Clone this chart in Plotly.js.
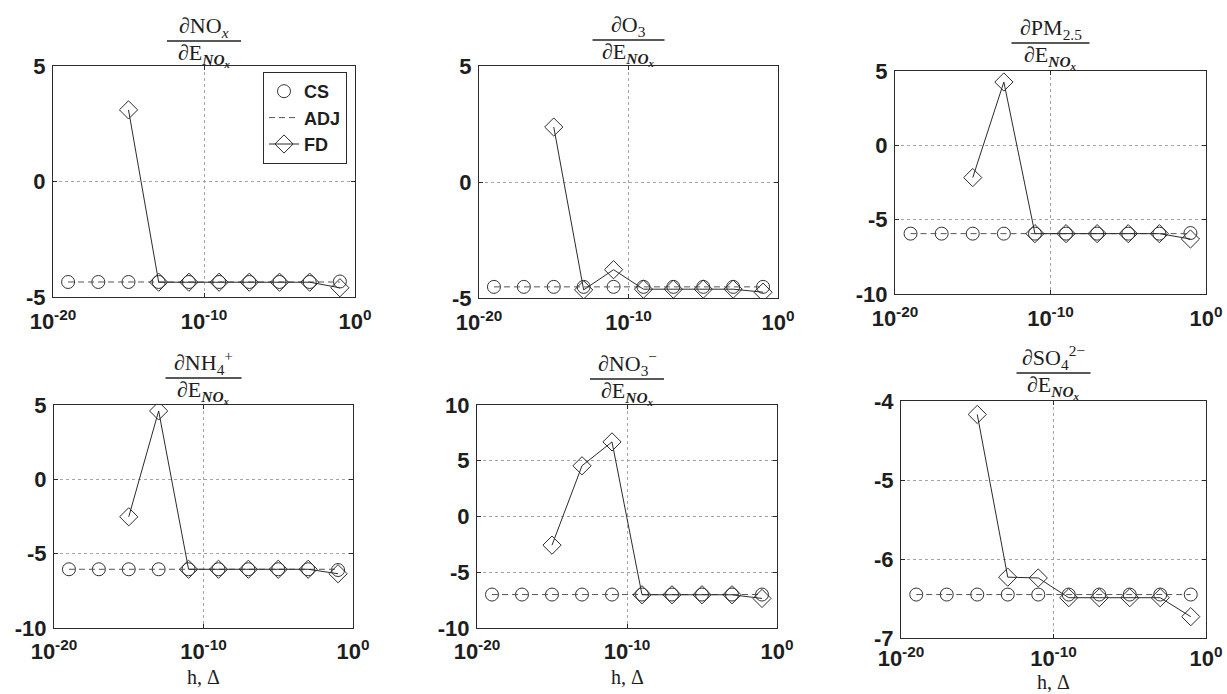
<!DOCTYPE html>
<html>
<head>
<meta charset="utf-8">
<script src="https://cdn.plot.ly/plotly-3.0.1.min.js"></script>
<style>html,body{margin:0;padding:0;background:#fff;}#chart{width:1227px;height:694px;}</style>
</head>
<body>
<div id="chart"></div>
<script>
// ---- data ----
const h = [1e-19, 1e-17, 1e-15, 1e-13, 1e-11, 1e-9, 1e-7, 1e-5, 1e-3, 1e-1];

const csNOx  = [-4.35, -4.35, -4.35, -4.35, -4.35, -4.35, -4.35, -4.35, -4.35, -4.33];
const adjNOx = [-4.35, -4.35, -4.35, -4.35, -4.35, -4.35, -4.35, -4.35, -4.35, -4.35];
const fdNOx  = [null, null, 3.1, -4.36, -4.36, -4.36, -4.36, -4.36, -4.36, -4.6];

const csO3  = [-4.52, -4.52, -4.52, -4.52, -4.52, -4.52, -4.52, -4.52, -4.52, -4.52];
const adjO3 = [-4.52, -4.52, -4.52, -4.52, -4.52, -4.52, -4.52, -4.52, -4.52, -4.52];
const fdO3  = [null, null, 2.37, -4.65, -3.78, -4.62, -4.62, -4.62, -4.62, -4.75];

const csPM  = [-5.94, -5.94, -5.94, -5.94, -5.94, -5.94, -5.94, -5.94, -5.94, -5.9];
const adjPM = [-5.94, -5.94, -5.94, -5.94, -5.94, -5.94, -5.94, -5.94, -5.94, -5.94];
const fdPM  = [null, null, -2.17, 4.26, -5.94, -5.94, -5.94, -5.94, -5.94, -6.3];

const csNH4  = [-6.05, -6.05, -6.05, -6.05, -6.05, -6.05, -6.05, -6.05, -6.05, -6.1];
const adjNH4 = [-6.05, -6.05, -6.05, -6.05, -6.05, -6.05, -6.05, -6.05, -6.05, -6.05];
const fdNH4  = [null, null, -2.52, 4.6, -6.05, -6.05, -6.05, -6.05, -6.05, -6.35];

const csNO3  = [-7.0, -7.0, -7.0, -7.0, -7.0, -7.0, -7.0, -7.0, -7.0, -7.0];
const adjNO3 = [-7.0, -7.0, -7.0, -7.0, -7.0, -7.0, -7.0, -7.0, -7.0, -7.0];
const fdNO3  = [null, null, -2.57, 4.55, 6.69, -7.02, -7.02, -7.02, -7.02, -7.35];

const csSO4  = [-6.45, -6.45, -6.45, -6.45, -6.45, -6.45, -6.45, -6.45, -6.45, -6.45];
const adjSO4 = [-6.45, -6.45, -6.45, -6.45, -6.45, -6.45, -6.45, -6.45, -6.45, -6.45];
const fdSO4  = [null, null, -4.17, -6.23, -6.24, -6.49, -6.49, -6.49, -6.49, -6.73];

const numerators = ["∂NO<sub><i>x</i></sub>", "∂O<sub>3</sub>", "∂PM<sub>2.5</sub>",
                    "∂NH<sub>4</sub><sup>+</sup>", "∂NO<sub>3</sub><sup>−</sup>", "∂SO<sub>4</sub><sup>2−</sup>"];
const denominator = "∂E<sub><b><i>NO<sub>x</sub></i></b></sub>";

const yTickVals = [[5, 0, -5], [5, 0, -5], [5, 0, -5, -10], [5, 0, -5, -10], [10, 5, 0, -5, -10], [-4, -5, -6, -7]];
const yTickText = [["5", "0", "-5"], ["5", "0", "-5"], ["5", "0", "-5", "-10"], ["5", "0", "-5", "-10"],
                   ["10", "5", "0", "-5", "-10"], ["-4", "-5", "-6", "-7"]];
const yRanges = [[-5, 5], [-5, 5], [-10, 5], [-10, 5], [-10, 10], [-7, -4]];
const xTickVals = [1e-20, 1e-10, 1];
const xTickText = ["10<sup>-20</sup>", "10<sup>-10</sup>", "10<sup>0</sup>"];
const seriesNames = ["CS", "ADJ", "FD"];
const xTitle = "h, Δ";

const cs  = [csNOx, csO3, csPM, csNH4, csNO3, csSO4];
const adj = [adjNOx, adjO3, adjPM, adjNH4, adjNO3, adjSO4];
const fd  = [fdNOx, fdO3, fdPM, fdNH4, fdNO3, fdSO4];

// ---- layout geometry (pixels) ----
const W = 1227, H = 694;
const boxes = [
  {l: 53,  r: 355,  t: 66,  b: 297, line: 41,  hw: 37, xt: null, ts: 5},
  {l: 479, r: 778,  t: 66,  b: 298, line: 40,  hw: 36, xt: null, ts: 5},
  {l: 895, r: 1206, t: 71,  b: 294, line: 43,  hw: 39, xt: null, ts: 5},
  {l: 54,  r: 353,  t: 405, b: 628, line: 378, hw: 38, xt: 665, ts: 4},
  {l: 477, r: 777,  t: 405, b: 628, line: 379, hw: 37, xt: 665, ts: 4},
  {l: 901, r: 1206, t: 401, b: 638, line: 373, hw: 37, xt: 670, ts: 1}
];

const ink = "#2b2b2b";
const tickFont = {family: "Liberation Sans, Arial, sans-serif", size: 22, color: "#1e1e1e", weight: "bold"};
const serif = {family: "Liberation Serif, Times New Roman, serif", size: 22, color: "#1e1e1e"};
const serifSmall = {family: "Liberation Serif, Times New Roman, serif", size: 20, color: "#1e1e1e"};

const traces = [];
const layout = {
  width: W, height: H,
  margin: {l: 0, r: 0, t: 0, b: 0},
  paper_bgcolor: "#fff", plot_bgcolor: "#fff",
  showlegend: true,
  legend: {
    x: 263 / W, y: 1 - 72 / H, xanchor: "left", yanchor: "top",
    bgcolor: "#fff", bordercolor: ink, borderwidth: 1,
    font: {family: "Liberation Sans, Arial, sans-serif", size: 18, color: "#1e1e1e", weight: "bold"},
    itemwidth: 30, tracegroupgap: 0
  },
  annotations: [], shapes: []
};

boxes.forEach((b, i) => {
  const k = i === 0 ? "" : String(i + 1);
  const xa = "x" + k, ya = "y" + k;
  layout["xaxis" + k] = {
    type: "log", range: [-20, 0], domain: [b.l / W, b.r / W], anchor: ya,
    tickvals: xTickVals, ticktext: xTickText, tickfont: tickFont, ticklabelstandoff: b.ts,
    showline: true, linecolor: ink, linewidth: 1, mirror: "ticks",
    ticks: "inside", ticklen: 4, tickcolor: ink,
    showgrid: true, gridcolor: "#a5a5a5", griddash: "dot", gridwidth: 1,
    zeroline: false, automargin: false
  };
  layout["yaxis" + k] = {
    range: yRanges[i], domain: [1 - b.b / H, 1 - b.t / H], anchor: xa,
    tickvals: yTickVals[i], ticktext: yTickText[i], tickfont: tickFont, ticklabelstandoff: 2,
    showline: true, linecolor: ink, linewidth: 1, mirror: "ticks",
    ticks: "inside", ticklen: 4, tickcolor: ink,
    showgrid: true, gridcolor: "#a5a5a5", griddash: "dot", gridwidth: 1,
    zeroline: false, automargin: false
  };

  traces.push({
    x: h, y: cs[i], xaxis: xa, yaxis: ya, name: seriesNames[0], mode: "markers",
    marker: {symbol: "circle-open", size: 13, color: "#333", line: {width: 1, color: "#333"}},
    showlegend: i === 0, legendgroup: "cs", hoverinfo: "x+y"
  });
  traces.push({
    x: h, y: adj[i], xaxis: xa, yaxis: ya, name: seriesNames[1], mode: "lines",
    line: {color: "#555", width: 1, dash: "6px,4px"},
    showlegend: i === 0, legendgroup: "adj", hoverinfo: "x+y"
  });
  traces.push({
    x: h, y: fd[i], xaxis: xa, yaxis: ya, name: seriesNames[2], mode: "lines+markers",
    line: {color: ink, width: 1},
    marker: {symbol: "diamond-open", size: 14, color: ink, line: {width: 1, color: ink}},
    connectgaps: false,
    showlegend: i === 0, legendgroup: "fd", hoverinfo: "x+y"
  });

  const cx = (b.l + b.r) / 2;
  layout.shapes.push({
    type: "line", xref: "paper", yref: "paper",
    x0: (cx - b.hw) / W, x1: (cx + b.hw) / W, y0: 1 - b.line / H, y1: 1 - b.line / H,
    line: {color: "#222", width: 1.3}
  });
  layout.annotations.push({
    xref: "paper", yref: "paper", x: cx / W, y: 1 - b.line / H,
    xanchor: "center", yanchor: "bottom", yshift: -2,
    text: numerators[i], showarrow: false, font: serif
  });
  layout.annotations.push({
    xref: "paper", yref: "paper", x: cx / W, y: 1 - b.line / H,
    xanchor: "center", yanchor: "top", yshift: 3,
    text: denominator, showarrow: false, font: serif
  });
  if (b.xt !== null) {
    layout.annotations.push({
      xref: "paper", yref: "paper", x: cx / W, y: 1 - b.xt / H,
      xanchor: "center", yanchor: "top", borderpad: 0,
      text: xTitle, showarrow: false, font: serifSmall
    });
  }
});

Plotly.newPlot("chart", traces, layout, {displayModeBar: false, staticPlot: true});
</script>
</body>
</html>
